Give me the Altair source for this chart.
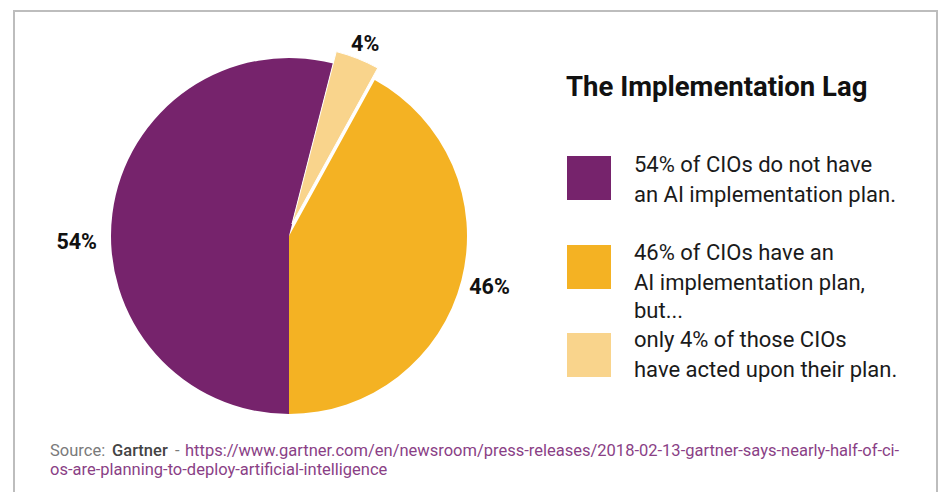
import math
import altair as alt
import pandas as pd

# ---- data ----
segments = ["have_plan", "no_plan", "acted"]
shares = [42, 54, 4]
pie_labels = ["46%", "54%", "4%"]
exploded = [0, 0, 1]
seg_colors = ["#F4B223", "#76236C", "#F9D48C"]

legend_title = "The Implementation Lag"
legend_keys = ["no_plan", "have_plan", "acted"]
legend_lines = [
    ["54% of CIOs do not have", "an AI implementation plan."],
    ["46% of CIOs have an", "AI implementation plan,", "but..."],
    ["only 4% of those CIOs", "have acted upon their plan."],
]
source_prefix = "Source:"
source_name = "Gartner"
source_sep = "-"
source_url_1 = "https://www.gartner.com/en/newsroom/press-releases/2018-02-13-gartner-says-nearly-half-of-ci-"
source_url_2 = "os-are-planning-to-deploy-artificial-intelligence"

FONT = "Roboto"
W, H = 942, 492
CX, CY, R = 289, 236, 178

df = pd.DataFrame({
    "seg": segments,
    "share": shares,
    "label": pie_labels,
    "exploded": exploded,
    "order": list(range(len(segments))),
})

start_angle = math.pi - shares[0] / 100 * 2 * math.pi
theta_scale = alt.Scale(domain=[0, 100], range=[start_angle, start_angle + 2 * math.pi])
color_scale = alt.Scale(domain=segments, range=seg_colors)

base = (
    alt.Chart(df)
    .transform_window(cum="sum(share)", sort=[alt.SortField("order")], frame=[None, 0])
    .transform_calculate(start="datum.cum - datum.share", mid="datum.cum - datum.share / 2")
)

arcs = base.transform_filter("datum.exploded == 0").mark_arc(radius=R).encode(
    theta=alt.Theta("start:Q", scale=theta_scale),
    theta2="cum:Q",
    color=alt.Color("seg:N", scale=color_scale, legend=None),
    x=alt.value(CX), y=alt.value(CY),
)

arcs_exp = base.transform_filter("datum.exploded == 1").mark_arc(
    radius=R, xOffset=3, yOffset=-12, stroke="white", strokeWidth=1
).encode(
    theta=alt.Theta("start:Q", scale=theta_scale),
    theta2="cum:Q",
    color=alt.Color("seg:N", scale=color_scale, legend=None),
    x=alt.value(CX), y=alt.value(CY),
)

lab_style = dict(font=FONT, fontSize=21.5, fontWeight="bold", color="#111111",
                 align="center", baseline="middle")
labels_a = base.transform_filter("datum.seg != 'no_plan'").mark_text(radius=207, **lab_style).encode(
    theta=alt.Theta("mid:Q", scale=theta_scale),
    text="label:N",
    x=alt.value(CX), y=alt.value(CY + 1),
)
labels_b = base.transform_filter("datum.seg == 'no_plan'").mark_text(radius=214, yOffset=34, **lab_style).encode(
    theta=alt.Theta("mid:Q", scale=theta_scale),
    text="label:N",
    x=alt.value(CX), y=alt.value(CY),
)

# ---- custom legend ----
key_y = [156, 245, 333]
leg_rows = []
for k, y0 in zip(legend_keys, key_y):
    leg_rows.append({"seg": k, "y": y0, "y2": y0 + 44})
leg_df = pd.DataFrame(leg_rows)
legend_boxes = alt.Chart(leg_df).mark_rect().encode(
    x=alt.value(567), x2=alt.value(611),
    y=alt.Y("y:Q", scale=None), y2="y2:Q",
    color=alt.Color("seg:N", scale=color_scale, legend=None),
)

text_baselines = [[172, 202], [260, 290, 318], [347, 377]]
txt_rows = []
for lines, bls in zip(legend_lines, text_baselines):
    for t, b in zip(lines, bls):
        txt_rows.append({"t": t, "y": b})
legend_text = alt.Chart(pd.DataFrame(txt_rows)).mark_text(
    font=FONT, fontSize=22, color="#1a1a1a", align="left", baseline="alphabetic"
).encode(x=alt.value(634), y=alt.Y("y:Q", scale=None), text="t:N")

title_txt = alt.Chart(pd.DataFrame({"t": [legend_title]})).mark_text(
    font=FONT, fontSize=27.5, fontWeight="bold", color="#111111", align="left", baseline="alphabetic"
).encode(x=alt.value(566), y=alt.value(96), text="t:N")

# ---- source ----
src_style = dict(font=FONT, fontSize=16.5, align="left", baseline="alphabetic")
src_plain = pd.DataFrame({
    "t": [source_prefix, source_sep, source_url_1, source_url_2],
    "x": [50, 175, 185, 50],
    "y": [456, 456, 456, 475],
    "c": ["#7a7a7a", "#7a7a7a", "#8a3f86", "#8a3f86"],
})
source_text = alt.Chart(src_plain).mark_text(**src_style).encode(
    x=alt.X("x:Q", scale=None), y=alt.Y("y:Q", scale=None), text="t:N",
    color=alt.Color("c:N", scale=None),
)
source_name_txt = alt.Chart(pd.DataFrame({"t": [source_name]})).mark_text(
    fontWeight=500, color="#444444", **src_style
).encode(x=alt.value(112), y=alt.value(456), text="t:N")

border = alt.Chart(pd.DataFrame({"a": [0]})).mark_rect(
    fill="transparent", stroke="#bdbdbd", strokeWidth=2
).encode(x=alt.value(14), x2=alt.value(937), y=alt.value(11), y2=alt.value(520))

chart = alt.layer(
    border, arcs, arcs_exp, labels_a, labels_b, legend_boxes, legend_text, title_txt,
    source_text, source_name_txt
).resolve_scale(color="independent").properties(
    width=W, height=H, padding=0, autosize=alt.AutoSizeParams(type="none"),
    background="white",
).configure_view(stroke=None)

chart.save("out.html", embed_options={"renderer": "svg", "actions": False})
